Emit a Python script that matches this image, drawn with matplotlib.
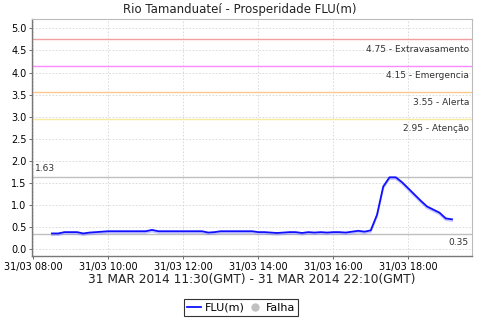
import matplotlib
matplotlib.use("Agg")
import matplotlib.pyplot as plt
import matplotlib.dates as mdates
import matplotlib.patheffects as pe
from matplotlib.lines import Line2D
import pandas as pd

title = "Rio Tamanduateí - Prosperidade FLU(m)"
xlabel = "31 MAR 2014 11:30(GMT) - 31 MAR 2014 22:10(GMT)"

flu = [0.36, 0.36, 0.39, 0.39, 0.39, 0.36, 0.38, 0.39, 0.40, 0.41,
       0.41, 0.41, 0.41, 0.41, 0.41, 0.41, 0.44, 0.41, 0.41, 0.41,
       0.41, 0.41, 0.41, 0.41, 0.41, 0.38, 0.39, 0.41, 0.41, 0.41,
       0.41, 0.41, 0.41, 0.39, 0.39, 0.38, 0.37, 0.38, 0.39, 0.39,
       0.37, 0.39, 0.38, 0.39, 0.38, 0.39, 0.39, 0.38, 0.40, 0.42,
       0.40, 0.43, 0.78, 1.42, 1.63, 1.63, 1.52, 1.38, 1.24, 1.10,
       0.97, 0.90, 0.83, 0.70, 0.68]
times = pd.date_range("2014-03-31 08:30", periods=len(flu), freq="10min")

thresholds = [4.75, 4.15, 3.55, 2.95]
threshold_names = ["Extravasamento", "Emergencia", "Alerta", "Atenção"]
threshold_colors = ["#f0a0a0", "#ff88ff", "#ffc88a", "#f5eaa0"]
max_val = 1.63
min_val = 0.35

fig = plt.figure(figsize=(4.8, 3.2), dpi=100)
ax = fig.add_axes([32/480, 1-256/320, 440/480, 237/320])

ax.set_xlim(pd.Timestamp("2014-03-31 07:58"), pd.Timestamp("2014-03-31 19:42"))
ax.set_ylim(-0.15, 5.21)
ax.set_yticks([0, 0.5, 1, 1.5, 2, 2.5, 3, 3.5, 4, 4.5, 5])
ax.yaxis.set_major_formatter(matplotlib.ticker.FormatStrFormatter("%.1f"))
ax.xaxis.set_major_locator(mdates.HourLocator(byhour=range(0, 24, 2)))
ax.xaxis.set_major_formatter(mdates.DateFormatter("%d/%m %H:%M"))
ax.grid(True, color="#d6d6d6", linestyle=(0, (2, 2)), linewidth=0.6)
ax.set_axisbelow(True)

for v, n, c in zip(thresholds, threshold_names, threshold_colors):
    ax.axhline(v, color=c, linewidth=1.0)
    ax.annotate(f"{v:.2f} - {n}", xy=(0.993, v), xycoords=("axes fraction", "data"),
                xytext=(0, -4), textcoords="offset points", ha="right", va="top",
                fontsize=6.5, color="#333333")

ax.axhline(max_val, color="#c0c0c0", linewidth=1.0)
ax.annotate(f"{max_val:.2f}", xy=(0.007, max_val), xycoords=("axes fraction", "data"),
            xytext=(0, 3), textcoords="offset points", ha="left", va="bottom",
            fontsize=6.5, color="#333333")
ax.axhline(min_val, color="#c0c0c0", linewidth=1.0)
ax.annotate(f"{min_val:.2f}", xy=(0.993, min_val), xycoords=("axes fraction", "data"),
            xytext=(0, -3), textcoords="offset points", ha="right", va="top",
            fontsize=6.5, color="#333333")

ax.plot(times, flu, color="#1010ff", linewidth=1.3,
        path_effects=[pe.SimpleLineShadow(offset=(0, -1.2), shadow_color="#8080ff", alpha=0.45),
                      pe.Normal()])

fig.text(0.499, 1-10/320, title, fontsize=8.5, ha="center", va="center", color="#222222")
ax.set_xlabel(xlabel, fontsize=8.8, labelpad=1, color="#222222")
ax.tick_params(axis="both", labelsize=7, length=2, width=0.6, color="#555555", pad=2)

for s in ["left", "bottom"]:
    ax.spines[s].set_color("#777777")
    ax.spines[s].set_linewidth(1.0)
for s in ["top", "right"]:
    ax.spines[s].set_color("#bbbbbb")
    ax.spines[s].set_linewidth(0.8)

handles = [Line2D([0], [0], color="#1010ff", linewidth=1.3),
           Line2D([0], [0], color="#c0c0c0", marker="o", linestyle="none", markersize=5)]
leg = fig.legend(handles, ["FLU(m)", "Falha"], loc="center", bbox_to_anchor=(0.502, 0.039),
                 ncol=2, fontsize=8, frameon=True, fancybox=False, edgecolor="black",
                 handlelength=1.3, handletextpad=0.3, columnspacing=0.3, borderpad=0.3,
                 borderaxespad=0)
leg.get_frame().set_linewidth(0.8)

fig.savefig("out.png", dpi=100, facecolor="white")
